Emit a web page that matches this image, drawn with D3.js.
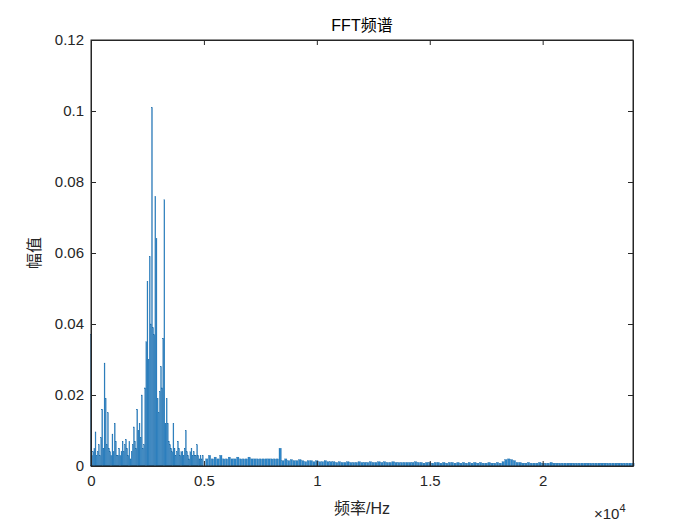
<!DOCTYPE html>
<html><head><meta charset="utf-8">
<script src="https://cdn.jsdelivr.net/npm/d3@7"></script>
<style>body{margin:0;background:#fff}text{font-family:"Liberation Sans","Noto Sans CJK SC",sans-serif}</style>
</head><body><svg id="c" width="700" height="525"></svg>
<script>
// 0–5000 Hz, step 50 Hz
const lowStep = 50;
const lowAmp = [0.037,0.003,0.004,0.005,0.0096,0.003,0.004,0.006,0.003,0.008,
0.016,0.005,0.029,0.019,0.006,0.015,0.005,0.004,0.003,0.009,
0.004,0.012,0.007,0.003,0.003,0.005,0.003,0.004,0.007,0.004,
0.006,0.0075,0.005,0.003,0.007,0.002,0.004,0.006,0.011,0.007,
0.005,0.016,0.010,0.012,0.008,0.020,0.005,0.006,0.022,0.035,
0.052,0.030,0.059,0.040,0.101,0.039,0.037,0.076,0.064,0.019,
0.015,0.021,0.028,0.022,0.036,0.075,0.012,0.019,0.012,0.007,
0.006,0.005,0.004,0.012,0.005,0.003,0.004,0.007,0.005,0.003,
0.004,0.004,0.003,0.005,0.010,0.004,0.003,0.002,0.004,0.005,
0.003,0.004,0.003,0.003,0.006,0.003,0.002,0.003,0.002,0.003];
// 5000–24000 Hz, step 125 Hz
const highStart = 5000, highStep = 125;
const highAmp = [0.002,0.003,0.002,0.0025,0.002,0.003,0.002,0.002,0.0025,0.002,
0.002,0.0025,0.002,0.002,0.002,0.0025,0.002,0.002,0.002,0.002,
0.002,0.002,0.002,0.002,0.002,0.002,0.005,0.0015,0.002,0.0015,
0.0018,0.0015,0.0015,0.0018,0.0015,0.0012,0.0015,0.0015,0.0012,0.0015,
0.0012,0.0012,0.0015,0.0012,0.0012,0.0012,0.001,0.0012,0.001,0.001,
0.0012,0.001,0.001,0.001,0.0012,0.001,0.001,0.001,0.0012,0.001,
0.001,0.0012,0.001,0.0012,0.001,0.001,0.0012,0.001,0.001,0.001,
0.001,0.001,0.001,0.001,0.0012,0.001,0.001,0.0008,0.001,0.001,
0.0008,0.001,0.001,0.0008,0.001,0.0008,0.001,0.001,0.0008,0.001,
0.0008,0.001,0.0008,0.001,0.0008,0.001,0.0008,0.001,0.0008,0.0008,
0.001,0.0008,0.0008,0.001,0.0008,0.0012,0.0018,0.002,0.0018,0.0015,
0.001,0.001,0.0008,0.0008,0.001,0.0008,0.0008,0.0008,0.001,0.0008,
0.0008,0.0008,0.001,0.0008,0.0008,0.0008,0.0008,0.0008,0.0008,0.0008,
0.0008,0.0008,0.0008,0.0008,0.0008,0.0008,0.0008,0.0008,0.0008,0.0008,
0.0008,0.0008,0.0008,0.0008,0.0008,0.0008,0.0008,0.0008,0.0008,0.0008,0.0008,0.0008];
const xTicks = [0,5000,10000,15000,20000];
const xTickLabels = ["0","0.5","1","1.5","2"];
const yTicks = [0,0.02,0.04,0.06,0.08,0.1,0.12];
const yTickLabels = ["0","0.02","0.04","0.06","0.08","0.1","0.12"];

const data = lowAmp.map((a,i)=>({f:i*lowStep,a,w:lowStep}))
  .concat(highAmp.map((a,i)=>({f:highStart+(i+1)*highStep,a,w:highStep})).filter(d=>d.f<=24000));

const svg = d3.select("#c");
const L=91,R=633,T=40,B=466;
const x = d3.scaleLinear().domain([0,24000]).range([L,R]);
const y = d3.scaleLinear().domain([0,0.12]).range([B,T]);
svg.append("rect").attr("x",L).attr("y",T).attr("width",R-L).attr("height",B-T).attr("fill","#fff");
const g = svg.append("g");
g.selectAll("rect.b").data(data).join("rect")
  .attr("x",d=>x(d.f)-(x(d.w)-x(0))*0.4)
  .attr("width",d=>Math.max(0.8,(x(d.w)-x(0))*0.8))
  .attr("y",d=>y(d.a)).attr("height",d=>B-y(d.a))
  .attr("fill","#2e86c8").attr("stroke","#0b5fa0").attr("stroke-width",0.3);
const ax = svg.append("g").attr("transform",`translate(0,${B})`)
  .call(d3.axisBottom(x).tickValues(xTicks).tickFormat((d,i)=>xTickLabels[i]).tickSizeInner(-5).tickSizeOuter(0).tickPadding(9));
const ay = svg.append("g").attr("transform",`translate(${L},0)`)
  .call(d3.axisLeft(y).tickValues(yTicks).tickFormat((d,i)=>yTickLabels[i]).tickSizeInner(-5).tickSizeOuter(0).tickPadding(7));
svg.append("g").attr("transform",`translate(0,${T})`)
  .call(d3.axisTop(x).tickValues(xTicks).tickFormat("").tickSizeInner(-5).tickSizeOuter(0));
svg.append("g").attr("transform",`translate(${R},0)`)
  .call(d3.axisRight(y).tickValues(yTicks).tickFormat("").tickSizeInner(-5).tickSizeOuter(0));
svg.selectAll(".domain,.tick line").attr("stroke","#262626");
svg.selectAll(".tick text").attr("font-size",15).attr("fill","#262626");
svg.append("rect").attr("x",L).attr("y",T).attr("width",R-L).attr("height",B-T).attr("fill","none").attr("stroke","#262626");
svg.append("text").attr("x",(L+R)/2).attr("y",31).attr("text-anchor","middle").attr("font-size",16).attr("fill","#000").text("FFT频谱");
svg.append("text").attr("x",(L+R)/2).attr("y",514).attr("text-anchor","middle").attr("font-size",16).attr("fill","#262626").text("频率/Hz");
svg.append("text").attr("transform",`translate(40,${(T+B)/2}) rotate(-90)`).attr("text-anchor","middle").attr("font-size",16).attr("fill","#262626").text("幅值");
const ex = svg.append("text").attr("x",594).attr("y",519).attr("font-size",15).attr("fill","#262626");
ex.append("tspan").text("×10");
ex.append("tspan").attr("dy",-7).attr("font-size",11).text("4");
</script></body></html>
